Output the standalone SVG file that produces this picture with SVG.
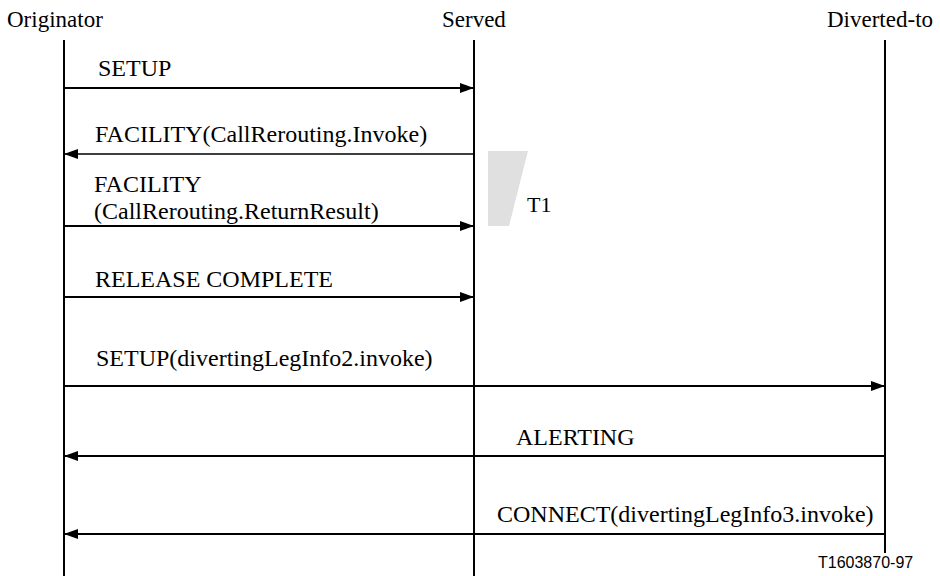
<svg xmlns="http://www.w3.org/2000/svg" width="940" height="576" viewBox="0 0 940 576">
<defs>
<style>
.hdr{font-family:"Liberation Serif","Times New Roman",serif;font-size:23px;fill:#000}
.lbl{font-family:"Liberation Serif","Times New Roman",serif;font-size:24px;fill:#000}
.tag{font-family:"Liberation Sans",Arial,sans-serif;font-size:16px;fill:#000}
.life{stroke:#000;stroke-width:2;fill:none}
.msg{stroke:#000;stroke-width:2;fill:none}
</style>
<marker id="ah" viewBox="0 0 14 10" refX="14" refY="5" markerWidth="14" markerHeight="10" markerUnits="userSpaceOnUse" orient="auto">
<path d="M0,0 L14,5 L0,10 Z" fill="#000"/>
</marker>
</defs>
<rect width="940" height="576" fill="#fff"/>
<g id="originator">
<text class="hdr" x="7" y="27">Originator</text>
<line class="life" x1="64" y1="40" x2="64" y2="576"/>
</g>
<g id="served">
<text class="hdr" x="442" y="27">Served</text>
<line class="life" x1="474" y1="40" x2="474" y2="576"/>
</g>
<g id="diverted-to">
<text class="hdr" x="827" y="27">Diverted-to</text>
<line class="life" x1="885" y1="40" x2="885" y2="553"/>
</g>
<g id="timer-t1">
<polygon points="488,151 528,151 509,226 488,226" fill="#e0e0e0"/>
<text class="lbl" x="527" y="212" style="font-size:22px">T1</text>
</g>
<g id="connectors">
<line class="msg" x1="64" y1="88" x2="474" y2="88" marker-end="url(#ah)"/>
<line class="msg" x1="474" y1="154" x2="64" y2="154" marker-end="url(#ah)" style="stroke-width:1.5"/>
<line class="msg" x1="64" y1="226" x2="474" y2="226" marker-end="url(#ah)"/>
<line class="msg" x1="64" y1="297" x2="474" y2="297" marker-end="url(#ah)"/>
<line class="msg" x1="64" y1="386" x2="885" y2="386" marker-end="url(#ah)"/>
<line class="msg" x1="885" y1="456" x2="64" y2="456" marker-end="url(#ah)"/>
<line class="msg" x1="885" y1="534" x2="64" y2="534" marker-end="url(#ah)"/>
</g>
<g id="labels">
<text class="lbl" x="98" y="76">SETUP</text>
<text class="lbl" x="95" y="142">FACILITY(CallRerouting.Invoke)</text>
<text class="lbl" x="94" y="192">FACILITY</text>
<text class="lbl" x="94" y="219">(CallRerouting.ReturnResult)</text>
<text class="lbl" x="95" y="287">RELEASE COMPLETE</text>
<text class="lbl" x="96" y="366">SETUP(divertingLegInfo2.invoke)</text>
<text class="lbl" x="516" y="445">ALERTING</text>
<text class="lbl" x="497" y="522">CONNECT(divertingLegInfo3.invoke)</text>
<text class="tag" x="818" y="568">T1603870-97</text>
</g>
</svg>
